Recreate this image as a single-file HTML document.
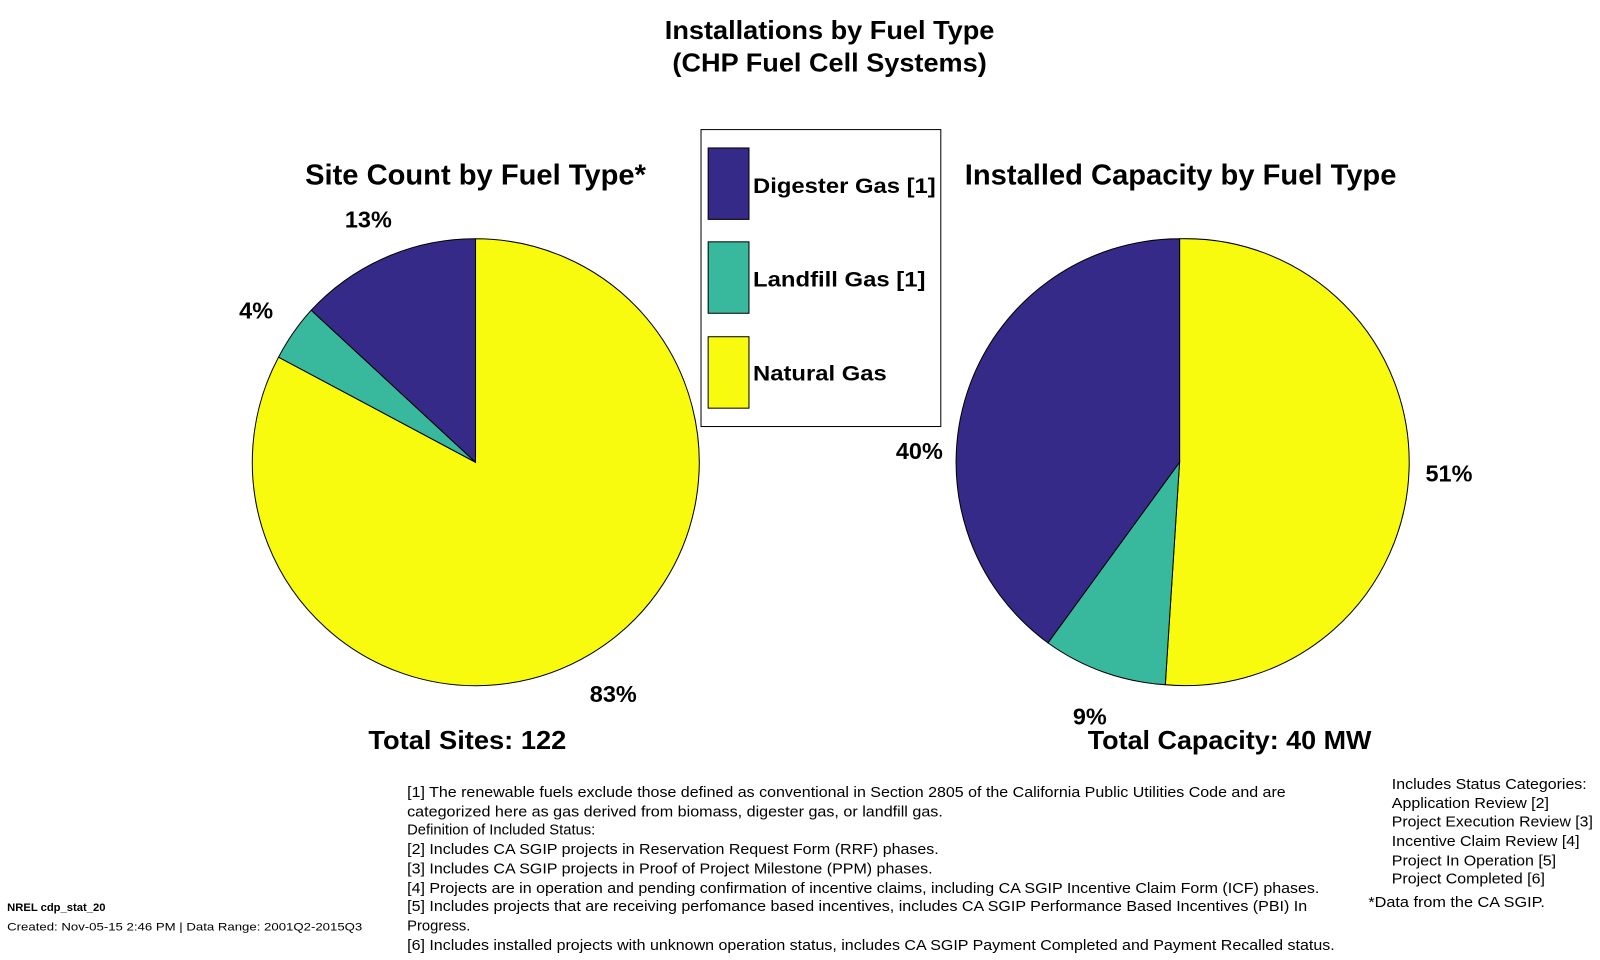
<!DOCTYPE html>
<html><head><meta charset="utf-8"><style>
html,body{margin:0;padding:0;background:#fff;}
svg{display:block;font-family:"Liberation Sans",Arial,sans-serif;}
</style></head><body>
<svg width="1600" height="960" viewBox="0 0 1600 960" xmlns="http://www.w3.org/2000/svg">
<g transform="scale(1.0204)">
<g font-weight="bold" fill="#000" text-anchor="middle">
<text x="813" y="38" font-size="25" textLength="323" lengthAdjust="spacingAndGlyphs">Installations by Fuel Type</text>
<text x="813" y="70" font-size="25" textLength="308" lengthAdjust="spacingAndGlyphs">(CHP Fuel Cell Systems)</text>
<text x="466" y="181" font-size="28" textLength="334" lengthAdjust="spacingAndGlyphs">Site Count by Fuel Type*</text>
<text x="1157" y="181" font-size="28" textLength="423" lengthAdjust="spacingAndGlyphs">Installed Capacity by Fuel Type</text>
<text x="361" y="223" font-size="23">13%</text>
<text x="251" y="312" font-size="23">4%</text>
<text x="601" y="688" font-size="23">83%</text>
<text x="901" y="450" font-size="23">40%</text>
<text x="1420" y="472" font-size="23">51%</text>
<text x="1068" y="710" font-size="23">9%</text>
<text x="458" y="734" font-size="25" textLength="194" lengthAdjust="spacingAndGlyphs">Total Sites: 122</text>
<text x="1205" y="734" font-size="25" textLength="278" lengthAdjust="spacingAndGlyphs">Total Capacity: 40 MW</text>
</g>
<g stroke="#000" stroke-width="1">
<path d="M466,453 L466,234 A219,219 0 1,1 273,350 Z" fill="#f9fb0e"/>
<path d="M466,453 L273,350 A219,219 0 0,1 305,304 Z" fill="#38b99e"/>
<path d="M466,453 L305,304 A219,219 0 0,1 466,234 Z" fill="#352a87"/>
<path d="M1156,453 L1156,234 A219,219 0 1,1 1142,671 Z" fill="#f9fb0e"/>
<path d="M1156,453 L1142,671 A219,219 0 0,1 1027,630 Z" fill="#38b99e"/>
<path d="M1156,453 L1027,630 A219,219 0 0,1 1156,234 Z" fill="#352a87"/>
</g>
<rect x="687" y="127" width="235" height="291" fill="#fff" stroke="#000" stroke-width="1"/>
<rect x="694" y="145" width="40" height="70" fill="#352a87" stroke="#000"/>
<rect x="694" y="237" width="40" height="70" fill="#38b99e" stroke="#000"/>
<rect x="694" y="330" width="40" height="70" fill="#f9fb0e" stroke="#000"/>
<g font-weight="bold" font-size="21">
<text x="738" y="189" textLength="179" lengthAdjust="spacingAndGlyphs">Digester Gas [1]</text>
<text x="738" y="281" textLength="169" lengthAdjust="spacingAndGlyphs">Landfill Gas [1]</text>
<text x="738" y="373" textLength="131" lengthAdjust="spacingAndGlyphs">Natural Gas</text>
</g>
<g font-size="14.5" fill="#000">
<text x="399" y="781" textLength="861" lengthAdjust="spacingAndGlyphs">[1] The renewable fuels exclude those defined as conventional in Section 2805 of the California Public Utilities Code and are</text>
<text x="399" y="800" textLength="525" lengthAdjust="spacingAndGlyphs">categorized here  as gas derived from biomass, digester gas, or landfill gas.</text>
<text x="399" y="818">Definition of Included Status:</text>
<text x="399" y="837" textLength="521" lengthAdjust="spacingAndGlyphs">[2] Includes CA SGIP projects in Reservation Request Form (RRF) phases.</text>
<text x="399" y="856" textLength="515" lengthAdjust="spacingAndGlyphs">[3] Includes CA SGIP projects in Proof of Project Milestone (PPM) phases.</text>
<text x="399" y="875" textLength="894" lengthAdjust="spacingAndGlyphs">[4] Projects are in operation and pending confirmation of incentive claims, including CA SGIP Incentive Claim Form (ICF) phases.</text>
<text x="399" y="893" textLength="882" lengthAdjust="spacingAndGlyphs">[5] Includes projects that are receiving perfomance based incentives, includes CA SGIP Performance Based Incentives (PBI) In</text>
<text x="399" y="912">Progress.</text>
<text x="399" y="931" textLength="909" lengthAdjust="spacingAndGlyphs">[6] Includes installed projects with unknown operation status, includes CA SGIP Payment Completed and Payment Recalled status.</text>
<text x="1364" y="773" textLength="191" lengthAdjust="spacingAndGlyphs">Includes Status Categories:</text>
<text x="1364" y="792" textLength="154" lengthAdjust="spacingAndGlyphs">Application Review [2]</text>
<text x="1364" y="810" textLength="197" lengthAdjust="spacingAndGlyphs">Project Execution Review [3]</text>
<text x="1364" y="829" textLength="184" lengthAdjust="spacingAndGlyphs">Incentive Claim Review [4]</text>
<text x="1364" y="848" textLength="161" lengthAdjust="spacingAndGlyphs">Project In Operation [5]</text>
<text x="1364" y="866" textLength="150" lengthAdjust="spacingAndGlyphs">Project Completed [6]</text>
<text x="1341" y="889" textLength="173" lengthAdjust="spacingAndGlyphs">*Data from the CA SGIP.</text>
</g>
<text x="7" y="893" font-size="11" font-weight="bold">NREL cdp_stat_20</text>
<text x="7" y="912" font-size="11" textLength="348" lengthAdjust="spacingAndGlyphs">Created: Nov-05-15  2:46 PM | Data Range: 2001Q2-2015Q3</text>
</g>
</svg>
</body></html>
